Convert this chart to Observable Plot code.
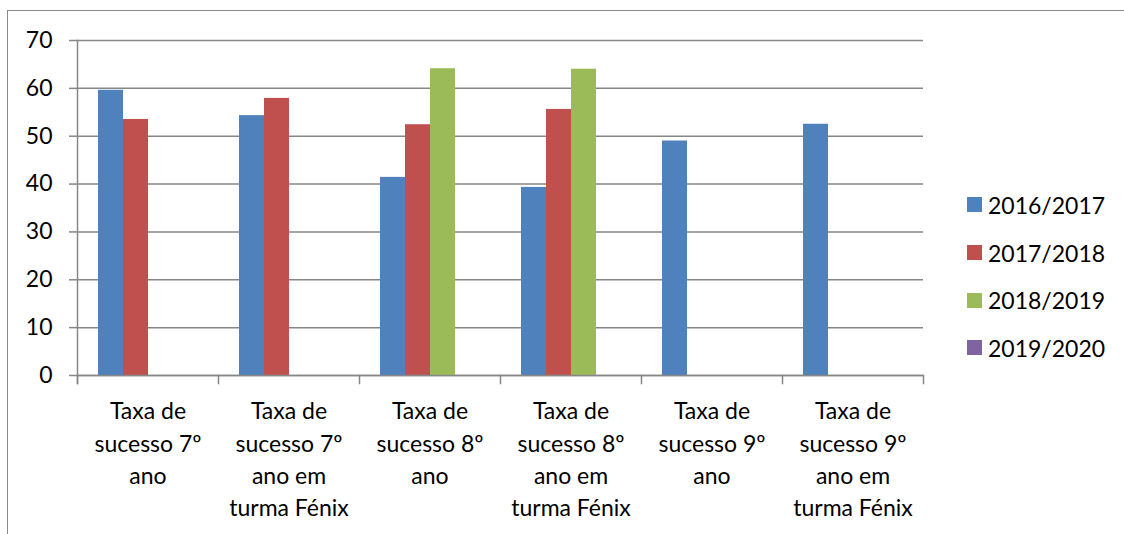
<!DOCTYPE html>
<html>
<head>
<meta charset="utf-8">
<script src="https://cdn.jsdelivr.net/npm/d3@7"></script>
<script src="https://cdn.jsdelivr.net/npm/@observablehq/plot@0.6"></script>
<style>
  html, body { margin: 0; padding: 0; overflow: hidden; background: #fff; width: 1124px; height: 534px; }
  #wrap { position: relative; width: 1124px; height: 534px; overflow: hidden; }
  #border { position: absolute; left: 7px; top: 10px; width: 1300px; height: 700px; border: 1px solid #8a8a8a; box-sizing: border-box; }
  #chart { position: absolute; left: 0; top: 0; }
  #legend { position: absolute; left: 967px; top: 181px; width: 157px; }
  #legend > div { display: flex !important; flex-direction: column !important; align-items: flex-start !important; flex-wrap: nowrap !important;
                font-family: Lato, sans-serif !important; font-size: 23px !important; color: #000 !important; margin: 0 !important; min-height: 0 !important; }
  #legend span, #legend .lg-swatch { display: flex !important; align-items: center !important; height: 47.7px; margin: 0 !important; white-space: nowrap; font-size: 23px !important; }
  #legend svg { margin-right: 6px !important; }
</style>
</head>
<body>
<div id="wrap">
  <div id="border"></div>
  <div id="chart"></div>
  <div id="legend"></div>
</div>
<script>
const categories = [
  "Taxa de sucesso 7º ano",
  "Taxa de sucesso 7º ano em turma Fénix",
  "Taxa de sucesso 8º ano",
  "Taxa de sucesso 8º ano em turma Fénix",
  "Taxa de sucesso 9º ano",
  "Taxa de sucesso 9º ano em turma Fénix"
];
const tickLabels = [
  "Taxa de\nsucesso 7º\nano",
  "Taxa de\nsucesso 7º\nano em\nturma Fénix",
  "Taxa de\nsucesso 8º\nano",
  "Taxa de\nsucesso 8º\nano em\nturma Fénix",
  "Taxa de\nsucesso 9º\nano",
  "Taxa de\nsucesso 9º\nano em\nturma Fénix"
];
const series = ["2016/2017", "2017/2018", "2018/2019", "2019/2020"];
const v2016_2017 = [59.6, 54.3, 41.4, 39.3, 49.0, 52.5];
const v2017_2018 = [53.5, 57.9, 52.4, 55.6, null, null];
const v2018_2019 = [null, null, 64.1, 64.0, null, null];
const v2019_2020 = [null, null, null, null, null, null];
const colors = ["#4F81BD", "#C0504D", "#9BBB59", "#8064A2"];
const yTicks = [0, 10, 20, 30, 40, 50, 60, 70];

const valuesBySeries = [v2016_2017, v2017_2018, v2018_2019, v2019_2020];
const data = [];
series.forEach((s, si) => {
  categories.forEach((c, ci) => {
    const v = valuesBySeries[si][ci];
    if (v != null) data.push({category: c, series: s, value: v});
  });
});

const W = 1124, H = 534, ML = 76, MR = 200, MT = 40, MB = 159;
const axisColor = "#878787";

const plot = Plot.plot({
  width: W,
  height: H,
  marginLeft: ML,
  marginRight: MR,
  marginTop: MT,
  marginBottom: MB,
  style: {fontFamily: "Lato, sans-serif", fontSize: "23px", color: "#000", background: "transparent", overflow: "visible"},
  fx: {domain: categories, padding: 0, label: null},
  x: {domain: series, paddingInner: 0, paddingOuter: 0.76, axis: null},
  y: {domain: [0, 70], label: null},
  color: {domain: series, range: colors},
  marks: [
    Plot.gridY({ticks: yTicks, stroke: axisColor, strokeOpacity: 1, strokeWidth: 1.5}),
    Plot.barY(data, {fx: "category", x: "series", y: "value", fill: "series"}),
    Plot.ruleY([0], {stroke: axisColor, strokeWidth: 1.5}),
    Plot.axisY({ticks: yTicks, tickSize: 8, tickPadding: 17, stroke: axisColor, strokeWidth: 1.5, label: null, fontSize: 23, fill: "#000"}),
    Plot.axisFx({anchor: "bottom", tickSize: 0, tickPadding: 21, label: null, lineHeight: 1.4, fontSize: 23, fill: "#000",
                 tickFormat: d => tickLabels[categories.indexOf(d)]}),
    Plot.frame({anchor: "left", facetAnchor: "left", insetBottom: -8, stroke: axisColor, strokeWidth: 1.5}),
    Plot.frame({anchor: "left", insetTop: H - MT - MB, insetBottom: -8, stroke: axisColor, strokeWidth: 1.5}),
    Plot.frame({anchor: "right", facetAnchor: "right", insetTop: H - MT - MB, insetBottom: -8, stroke: axisColor, strokeWidth: 1.5})
  ]
});
document.getElementById("chart").appendChild(plot);

const legend = plot.legend("color", {legend: "swatches", swatchSize: 15, className: "lg"});
document.getElementById("legend").appendChild(legend);
</script>
</body>
</html>
